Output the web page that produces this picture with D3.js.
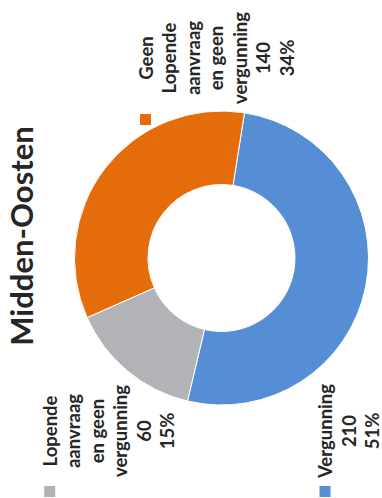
<!DOCTYPE html>
<html>
<head>
<meta charset="utf-8">
<script src="https://cdn.jsdelivr.net/npm/d3@7"></script>
<style>
  html, body { margin: 0; padding: 0; background: #fff; }
  svg { display: block; }
  text { font-family: Lato, "Open Sans", sans-serif; font-weight: 700; fill: #262626; }
</style>
</head>
<body>
<svg id="chart" width="382" height="498"></svg>
<script>
// ---- data ----
const title = "Midden-Oosten";
const categories = ["Vergunning", "Lopende aanvraag en geen vergunning", "Geen Lopende aanvraag en geen vergunning"];
const values = [210, 60, 140];
const percents = ["51%", "15%", "34%"];
const labelLines = [
  ["Vergunning"],
  ["Lopende", "aanvraag", "en geen", "vergunning"],
  ["Geen", "Lopende", "aanvraag", "en geen", "vergunning"]
];
const colors = ["#558ED5", "#B2B3B6", "#E46C0A"];

// ---- layout (unrotated frame: 498 wide, 382 tall; then rotated -90deg) ----
const W = 498, H = 382;
const cx = 240, cy = 221.5, rOuter = 147, rInner = 73.5;
const lineH = 23.5, fontSize = 18.5;
// label blocks: center x of text, baseline y of first line, marker x
const labelPos = [
  { xc: 67, y0: 332, mx: 1 },
  { xc: 67, y0: 56.7, mx: 1 },
  { xc: 440, y0: 152.5, mx: 373 }
];

const svg = d3.select("#chart");
const g = svg.append("g").attr("transform", `translate(0,${W}) rotate(-90)`);

// title
g.append("text")
  .attr("x", 262).attr("y", 33)
  .attr("text-anchor", "middle")
  .style("font-size", "31px")
  .text(title);

// donut
const pie = d3.pie().sort(null).value(d => d)
  .startAngle(99 * Math.PI / 180)
  .endAngle(99 * Math.PI / 180 + 2 * Math.PI);
const arc = d3.arc().innerRadius(rInner).outerRadius(rOuter);

g.append("g").attr("transform", `translate(${cx},${cy})`)
  .selectAll("path")
  .data(pie(values))
  .join("path")
  .attr("d", arc)
  .attr("fill", (d, i) => colors[i])
  .attr("stroke", "#fff")
  .attr("stroke-width", 1);

// labels with legend keys
values.forEach((v, i) => {
  const p = labelPos[i];
  const lines = labelLines[i].concat([String(v), percents[i]]);
  const lg = g.append("g");
  lg.append("rect")
    .attr("x", p.mx).attr("y", p.y0 - 12.5)
    .attr("width", 11).attr("height", 11)
    .attr("fill", colors[i]);
  lg.selectAll("text")
    .data(lines)
    .join("text")
    .attr("x", p.xc)
    .attr("y", (d, k) => p.y0 + k * lineH)
    .attr("text-anchor", "middle")
    .style("font-size", fontSize + "px")
    .text(d => d);
});
</script>
</body>
</html>
